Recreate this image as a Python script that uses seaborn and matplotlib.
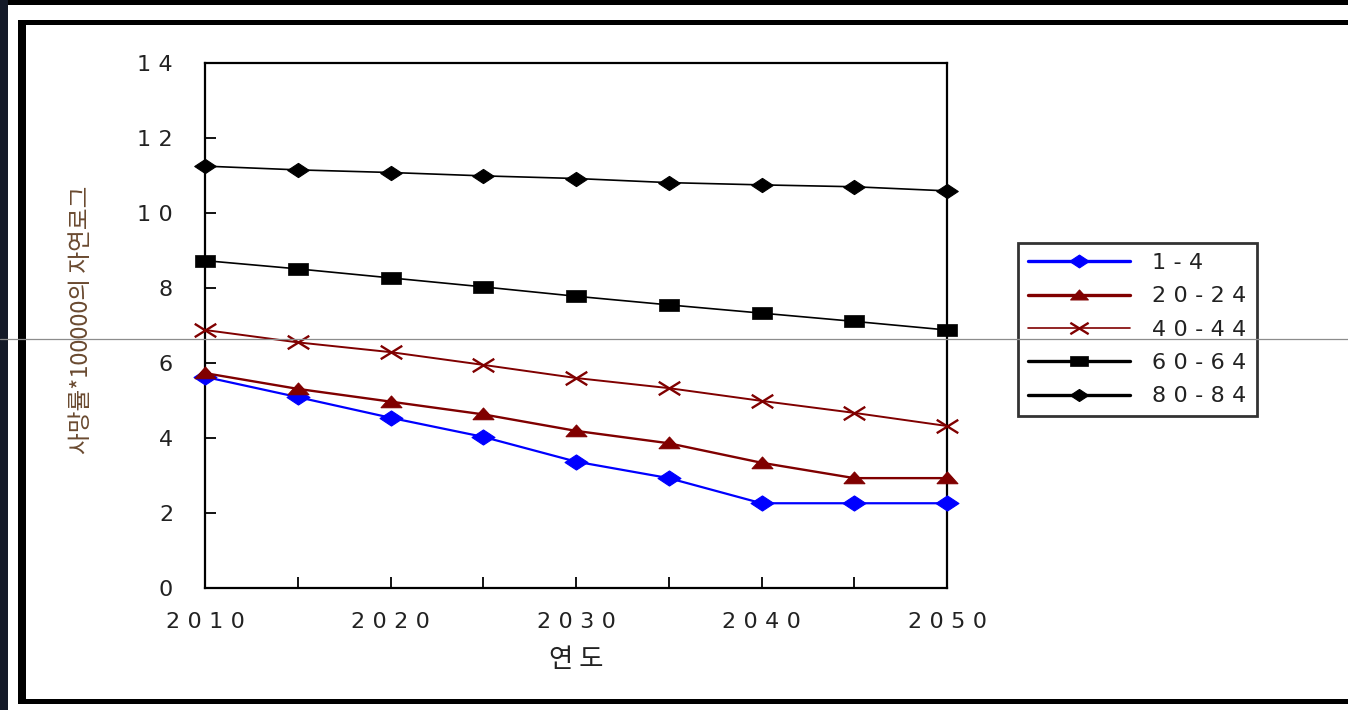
import numpy as np
import pandas as pd
import matplotlib
matplotlib.use("Agg")
import matplotlib.pyplot as plt
import seaborn as sns
from matplotlib.path import Path
from matplotlib.lines import Line2D
from matplotlib.patches import Rectangle
from matplotlib.ticker import MultipleLocator, FuncFormatter

# ---- data ----
years = [2010, 2015, 2020, 2025, 2030, 2035, 2040, 2045, 2050]
series_names = ["1-4", "20-24", "40-44", "60-64", "80-84"]
v_1_4 = [5.63, 5.09, 4.54, 4.03, 3.37, 2.93, 2.26, 2.26, 2.26]
v_20_24 = [5.73, 5.31, 4.97, 4.63, 4.19, 3.86, 3.34, 2.93, 2.93]
v_40_44 = [6.88, 6.55, 6.29, 5.95, 5.60, 5.33, 4.99, 4.67, 4.32]
v_60_64 = [8.73, 8.51, 8.27, 8.03, 7.78, 7.55, 7.33, 7.11, 6.88]
v_80_84 = [11.25, 11.15, 11.08, 10.99, 10.92, 10.81, 10.75, 10.70, 10.59]
x_label = "연 도"
y_label = "사망률*100000의 자연로그"

sns.set_style("white")
plt.rcParams["font.family"] = ["DejaVu Sans"]

W, H = 1348, 710
fig = plt.figure(figsize=(W / 100, H / 100), dpi=100)
fig.patch.set_facecolor("white")

# axes placement
L, R, T, B = 205, 947, 63, 588
ax = fig.add_axes([L / W, 1 - B / H, (R - L) / W, (B - T) / H])
ax.set_facecolor("white")

# custom (horizontally wide) markers
diamond = Path([(-1, 0), (0, 0.66), (1, 0), (0, -0.66), (-1, 0)], closed=True)
square = Path([(-1, -0.62), (1, -0.62), (1, 0.62), (-1, 0.62), (-1, -0.62)], closed=True)
triangle = Path([(-1, -0.5), (1, -0.5), (0, 0.62), (-1, -0.5)], closed=True)
xmark = Path([(-1, -0.62), (1, 0.62), (-1, 0.62), (1, -0.62)],
             [Path.MOVETO, Path.LINETO, Path.MOVETO, Path.LINETO])

values = [v_1_4, v_20_24, v_40_44, v_60_64, v_80_84]
styles = [
    dict(color="#0000FF", marker=diamond, ms=16.5, lw=1.6, mfc="#0000FF", mew=0.8),
    dict(color="#800000", marker=triangle, ms=15, lw=1.7, mfc="#800000", mew=0.8),
    dict(color="#800000", marker=xmark, ms=15.5, lw=1.4, mfc="none", mew=1.7),
    dict(color="#000000", marker=square, ms=14.5, lw=1.2, mfc="#000000", mew=0.5),
    dict(color="#000000", marker=diamond, ms=15.5, lw=1.2, mfc="#000000", mew=0.8),
]
legend_lw = [2.4, 2.4, 1.2, 2.4, 2.4]

for name, vals, st in zip(series_names, values, styles):
    df = pd.DataFrame({"year": years, "value": vals})
    sns.lineplot(data=df, x="year", y="value", ax=ax, color=st["color"],
                 marker=st["marker"], markersize=st["ms"], linewidth=st["lw"],
                 markerfacecolor=st["mfc"], markeredgecolor=st["color"],
                 markeredgewidth=st["mew"], label=name, clip_on=False, zorder=3)

ax.set_xlim(2010, 2050)
ax.set_ylim(0, 14)

ax.xaxis.set_major_locator(MultipleLocator(5))
ax.yaxis.set_major_locator(MultipleLocator(2))

SP = "\u2004"  # three-per-em space, imitates the wide letter spacing


def spaced(s):
    return SP.join(s)


def xfmt(v, pos):
    iv = int(round(v))
    return spaced(str(iv)) if iv % 10 == 0 else ""


ax.xaxis.set_major_formatter(FuncFormatter(xfmt))
ax.yaxis.set_major_formatter(FuncFormatter(lambda v, pos: spaced(str(int(round(v))))))

ax.tick_params(axis="both", which="major", direction="in", length=8, width=1.3,
               colors="black", labelsize=16, labelcolor="#222222",
               bottom=True, left=True, top=False, right=False)
ax.tick_params(axis="y", pad=23)
ax.tick_params(axis="x", pad=17)

for sp in ax.spines.values():
    sp.set_visible(True)
    sp.set_color("black")
    sp.set_linewidth(1.6)

ax.set_xlabel(x_label, fontsize=19, family=["Noto Sans CJK KR", "DejaVu Sans"], color="#222222")
ax.set_ylabel(y_label, fontsize=17, family=["Noto Sans CJK KR", "DejaVu Sans"], color="#6a4a30")
ax.xaxis.set_label_coords(0.5, (B - 646) / (B - T))
ax.yaxis.set_label_coords((93 - L) / (R - L), 0.51)

# legend
handles, labels = ax.get_legend_handles_labels()
leg = fig.legend(handles, [spaced(l) for l in labels], loc="upper left",
                 bbox_to_anchor=(1018 / W, 1 - 243 / H), bbox_transform=fig.transFigure,
                 fontsize=16, frameon=True, fancybox=False, edgecolor="black",
                 handlelength=4.6, handletextpad=1.0, labelspacing=0.6,
                 borderpad=0.45, borderaxespad=0)
leg.get_frame().set_linewidth(2.0)
for t in leg.get_texts():
    t.set_color("#222222")
for ln, lw in zip(leg.get_lines(), legend_lw):
    ln.set_linewidth(lw)
    ln.set_markersize(ln.get_markersize() * 0.85)
if ax.get_legend() is not None:
    ax.get_legend().remove()

# outer decorations (page frame)
def px_rect(x0, y0, x1, y1, color, z=10):
    fig.add_artist(Rectangle((x0 / W, 1 - y1 / H), (x1 - x0) / W, (y1 - y0) / H,
                             transform=fig.transFigure, facecolor=color,
                             edgecolor="none", zorder=z))

px_rect(0, 0, W, 5, "black")
px_rect(0, 0, 8, H, "#141a28")
px_rect(18, 20, W, 25, "black")
px_rect(18, 20, 26, 704, "black")
px_rect(18, 699, W, 704, "black")

# thin gray horizontal scan line across the image
fig.add_artist(Line2D([0, 1], [1 - 339 / H, 1 - 339 / H], transform=fig.transFigure,
                      color="#8c8c8c", linewidth=0.9, zorder=20))

fig.savefig("out.png", dpi=100, facecolor="white")
